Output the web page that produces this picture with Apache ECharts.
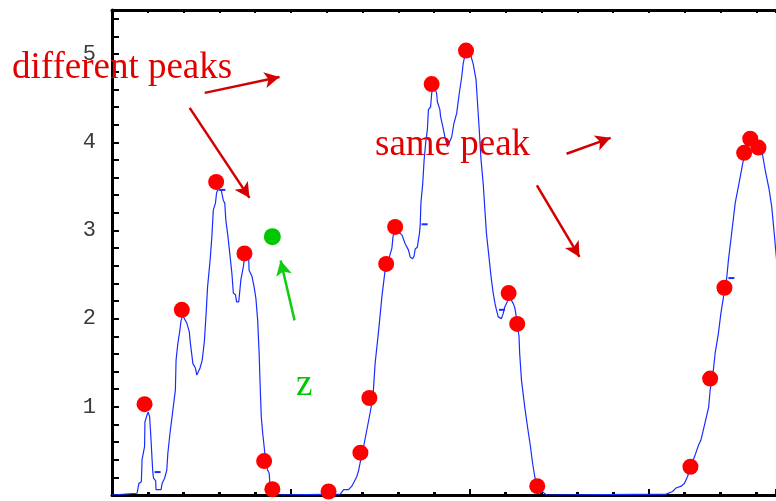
<!DOCTYPE html>
<html>
<head>
<meta charset="utf-8">
<script src="https://cdn.jsdelivr.net/npm/echarts@6/dist/echarts.min.js"></script>
<style>
  html, body { margin: 0; padding: 0; background: #fff; }
  #chart { width: 776px; height: 501px; }
</style>
</head>
<body>
<div id="chart"></div>
<script>
// Signal trace: three groups of peaks separated by flat baseline
const trace = [
  [0,0],[0.70,0.02],[0.75,0.13],[0.82,0.15],[0.84,0.40],[0.91,0.55],[0.92,0.83],[0.98,0.91],[1.01,0.94],[1.05,0.89],
  [1.08,0.70],[1.12,0.40],[1.14,0.26],[1.16,0.19],[1.22,0.16],[1.23,0.06],[1.37,0.06],[1.40,0.13],[1.47,0.19],[1.53,0.28],
  [1.56,0.47],[1.62,0.70],[1.70,0.96],[1.77,1.19],[1.79,1.53],[1.84,1.72],[1.89,1.85],[1.93,1.98],[1.98,2.04],[2.02,2.00],
  [2.09,1.95],[2.16,1.85],[2.19,1.72],[2.26,1.49],[2.33,1.44],[2.37,1.36],[2.42,1.36],[2.46,1.44],[2.52,1.53],[2.58,1.74],
  [2.63,2.06],[2.67,2.36],[2.74,2.66],[2.79,2.93],[2.83,3.23],[2.89,3.31],[2.92,3.42],[2.95,3.46],[3.05,3.46],[3.07,3.42],
  [3.11,3.34],[3.15,3.31],[3.18,3.12],[3.24,2.93],[3.30,2.70],[3.35,2.51],[3.39,2.29],[3.45,2.27],[3.48,2.19],[3.54,2.19],
  [3.56,2.27],[3.60,2.44],[3.67,2.59],[3.70,2.68],[3.74,2.72],[3.82,2.68],[3.83,2.55],[3.91,2.48],[3.97,2.36],[4.02,2.23],
  [4.07,1.98],[4.11,1.61],[4.14,1.23],[4.17,0.89],[4.21,0.70],[4.25,0.55],[4.30,0.36],[4.35,0.28],[4.39,0.25],[4.41,0.13],
  [4.47,0.04],[4.55,0],
  [6.38,0.01],[6.47,0.06],[6.61,0.06],[6.70,0.10],[6.84,0.21],[6.89,0.28],[6.95,0.40],[7.03,0.55],[7.12,0.74],[7.21,0.93],
  [7.29,1.11],[7.35,1.49],[7.45,1.87],[7.54,2.25],[7.63,2.55],[7.66,2.62],[7.75,2.70],[7.82,2.80],[7.85,2.93],[7.91,3.01],
  [8.10,2.95],[8.19,2.85],[8.28,2.78],[8.33,2.70],[8.40,2.68],[8.44,2.71],[8.47,2.79],[8.53,2.81],[8.59,2.97],[8.61,3.06],
  [8.63,3.31],[8.68,3.53],[8.72,3.80],[8.77,4.02],[8.81,4.14],[8.84,4.37],[8.90,4.40],[8.93,4.55],[8.96,4.62],[9.05,4.58],
  [9.07,4.55],[9.09,4.46],[9.16,4.37],[9.18,4.29],[9.24,4.18],[9.30,4.06],[9.37,3.95],[9.42,3.95],[9.49,4.06],[9.55,4.21],
  [9.63,4.33],[9.70,4.55],[9.77,4.74],[9.81,4.89],[9.86,4.99],[9.92,5.02],[10.02,4.99],[10.05,4.97],[10.09,4.89],[10.17,4.71],
  [10.20,4.52],[10.26,4.14],[10.31,3.80],[10.37,3.53],[10.46,2.97],[10.56,2.59],[10.60,2.44],[10.65,2.29],[10.70,2.17],[10.74,2.10],
  [10.79,2.02],[10.88,2.00],[10.93,2.06],[10.97,2.13],[11.04,2.19],[11.09,2.26],[11.21,2.17],[11.25,2.13],[11.28,2.06],[11.32,1.95],
  [11.37,1.80],[11.39,1.60],[11.44,1.30],[11.53,1.00],[11.62,0.74],[11.69,0.55],[11.75,0.36],[11.81,0.21],[11.87,0.09],[11.95,0.04],
  [12.05,0.03],[12.14,0],
  [15.48,0.01],[15.66,0.04],[15.76,0.08],[15.90,0.10],[15.99,0.13],[16.08,0.21],[16.16,0.32],[16.27,0.43],[16.39,0.57],[16.45,0.62],
  [16.55,0.79],[16.67,1.00],[16.71,1.19],[16.78,1.34],[16.85,1.61],[16.94,1.83],[17.01,2.06],[17.10,2.29],[17.17,2.45],[17.22,2.66],
  [17.32,3.00],[17.41,3.31],[17.50,3.50],[17.57,3.65],[17.63,3.78],[17.70,3.92],[17.80,4.00],[17.90,4.00],[18.02,3.95],[18.12,3.92],
  [18.17,3.87],[18.25,3.68],[18.36,3.46],[18.43,3.27],[18.50,2.97],[18.58,2.60],[18.70,2.00]
];

// Sampled points on the trace
const picks = [
  [0.91,1.03],[1.95,2.10],[2.91,3.55],[3.70,2.74],[4.25,0.385],[4.48,0.065],
  [6.05,0.04],[6.94,0.48],[7.19,1.10],[7.66,2.62],[7.91,3.04],[8.93,4.66],[9.89,5.04],[11.08,2.29],[11.32,1.94],[11.88,0.10],
  [16.16,0.32],[16.71,1.32],[17.11,2.35],[17.66,3.88],[17.83,4.04],[18.06,3.94]
];

// Small level markers beside the trace
const levelMarks = [[1.19,0.26],[3.00,3.46],[8.65,3.07],[10.81,2.10],[17.22,2.46]];

// Probe point
const probe = [[4.48,2.93]];

// Annotation arrows: [from, to]
const redArrows = [
  [[2.59,4.56],[4.68,4.74]],
  [[2.17,4.39],[3.84,3.37]],
  [[12.70,3.87],[13.93,4.05]],
  [[11.87,3.51],[13.06,2.70]]
];
const greenArrows = [
  [[5.10,1.98],[4.71,2.66]]
];

const yLabels = [1, 2, 3, 4, 5];

// Visible x range (the frame continues past the right edge)
const X_MAX = 18.55;

const RED = '#e00000';
const GREEN = '#00c800';
const BLUE = '#1a2dff';

const chart = echarts.init(document.getElementById('chart'), null, { renderer: 'canvas' });

const arrowLines = redArrows.map(a => [
  { coord: a[0], lineStyle: { color: '#d40000' } },
  { coord: a[1] }
]).concat(greenArrows.map(a => [
  { coord: a[0], lineStyle: { color: '#11cc11' } },
  { coord: a[1] }
]));

chart.setOption({
  animation: false,
  backgroundColor: '#fff',
  grid: { left: 112, top: 10, right: 0, height: 485, containLabel: false },
  xAxis: [
    {
      type: 'value', position: 'bottom', min: 0, max: X_MAX, interval: 5,
      axisLine: { show: true, onZero: false, lineStyle: { color: '#000', width: 3 } },
      axisTick: { show: true, inside: true, length: 6, lineStyle: { color: '#000', width: 2 } },
      minorTick: { show: true, splitNumber: 5, length: 3, lineStyle: { color: '#000', width: 3 } },
      axisLabel: { show: false },
      splitLine: { show: false }
    },
    {
      type: 'value', position: 'top', min: 0, max: X_MAX, interval: 1,
      axisLine: { show: true, onZero: false, lineStyle: { color: '#000', width: 3 } },
      axisTick: { show: true, inside: true, length: 3, lineStyle: { color: '#000', width: 2 } },
      axisLabel: { show: false },
      splitLine: { show: false }
    }
  ],
  yAxis: {
    type: 'value', min: 0, max: 5.5, interval: 0.2,
    axisLine: { show: true, onZero: false, lineStyle: { color: '#000', width: 3 } },
    axisTick: { show: true, inside: true, length: 7, interval: 0, lineStyle: { color: '#000', width: 2 } },
    axisLabel: {
      show: true, interval: 0, margin: 16,
      color: '#3a3a3a', fontFamily: 'Liberation Mono', fontSize: 22,
      formatter: v => {
        const r = Math.round(v);
        return (Math.abs(v - r) < 1e-6 && yLabels.includes(r)) ? String(r) : '';
      }
    },
    splitLine: { show: false }
  },
  series: [
    {
      type: 'line', data: trace, showSymbol: false, symbol: 'none',
      lineStyle: { color: BLUE, width: 1.2 }, z: 3, silent: true
    },
    {
      type: 'scatter', data: levelMarks, symbol: 'rect', symbolSize: [6, 2], symbolOffset: [3, 0],
      itemStyle: { color: BLUE, opacity: 1 }, z: 4, silent: true
    },
    {
      type: 'scatter', data: picks, symbol: 'circle', symbolSize: 16,
      itemStyle: { color: '#ff0000', opacity: 1 }, z: 5, silent: true
    },
    {
      type: 'scatter', data: probe, symbol: 'circle', symbolSize: 17,
      itemStyle: { color: GREEN, opacity: 1 }, z: 5, silent: true,
      markLine: {
        silent: true, animation: false,
        symbol: ['none', 'arrow'], symbolSize: [12, 15],
        label: { show: false },
        lineStyle: { width: 2.5, type: 'solid', opacity: 1 },
        data: arrowLines
      }
    }
  ],
  graphic: [
    { type: 'text', left: 12, top: 50, style: { text: 'different peaks', fill: RED, font: '37px "Liberation Serif"' }, z: 10 },
    { type: 'text', left: 375, top: 127, style: { text: 'same peak', fill: RED, font: '37px "Liberation Serif"' }, z: 10 },
    { type: 'text', left: 296, top: 367, style: { text: 'z', fill: GREEN, font: '37px "Liberation Serif"' }, z: 10 }
  ]
});
</script>
</body>
</html>
